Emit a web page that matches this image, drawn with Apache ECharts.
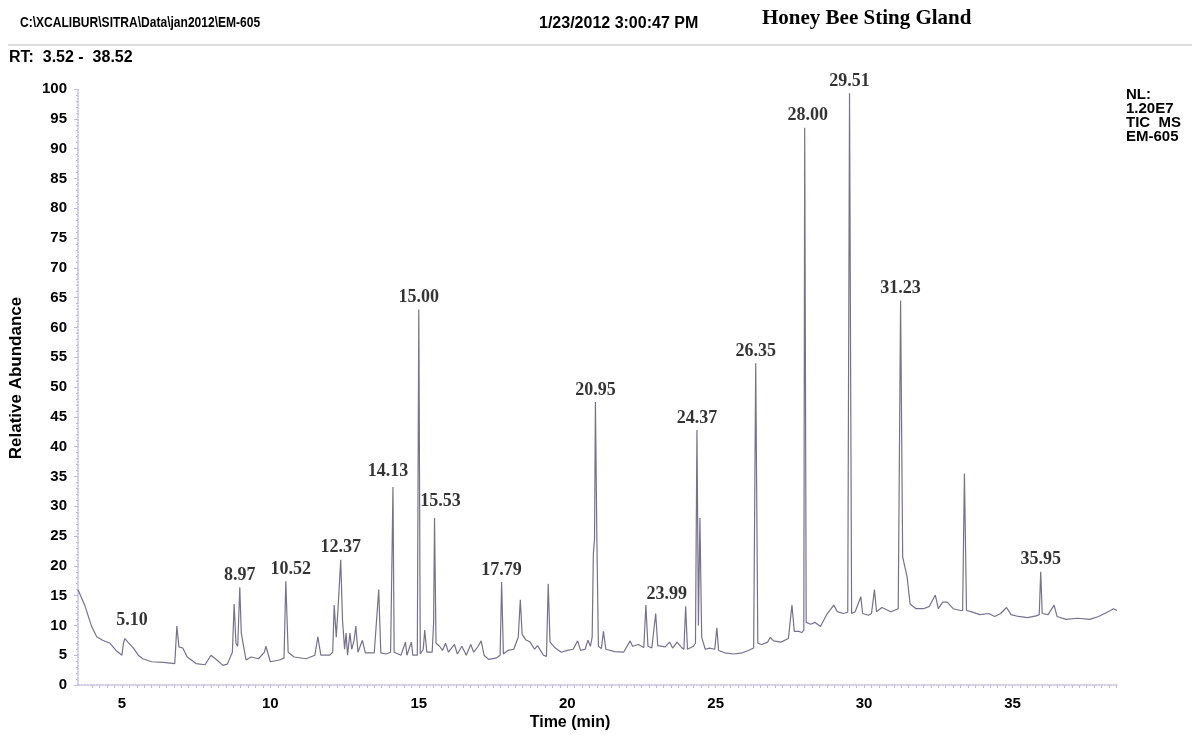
<!DOCTYPE html>
<html>
<head>
<meta charset="utf-8">
<script src="https://cdn.jsdelivr.net/npm/echarts@6/dist/echarts.min.js"></script>
<style>
html,body{margin:0;padding:0;background:#fff;}
#chart{width:1192px;height:735px;}
</style>
</head>
<body>
<div id="chart"></div>
<script>
// ---- data ----
const retentionTimes = [
 3.52,3.76,3.98,4.15,4.35,4.6,4.8,5.0,5.05,5.1,5.2,5.4,5.55,5.7,6.0,6.4,6.78,6.85,6.92,7.05,
 7.2,7.5,7.8,8.0,8.2,8.4,8.55,8.72,8.78,8.84,8.9,8.97,9.02,9.08,9.18,9.35,9.6,9.8,9.85,10.0,
 10.3,10.46,10.52,10.6,10.8,11.2,11.5,11.6,11.7,12.0,12.1,12.15,12.22,12.28,12.37,12.43,12.5,12.55,12.6,12.68,
 12.74,12.82,12.88,12.95,13.1,13.2,13.5,13.65,13.72,13.9,14.05,14.09,14.13,14.17,14.4,14.55,14.6,14.75,14.8,14.95,
 15.0,15.05,15.15,15.2,15.27,15.45,15.5,15.53,15.58,15.7,15.8,15.9,16.0,16.2,16.3,16.45,16.6,16.75,16.85,17.0,
 17.1,17.2,17.35,17.6,17.74,17.79,17.85,18.0,18.2,18.35,18.42,18.48,18.6,18.75,18.9,19.0,19.2,19.3,19.36,19.42,
 19.6,19.8,20.0,20.2,20.35,20.45,20.6,20.7,20.78,20.84,20.88,20.92,20.95,21.0,21.05,21.15,21.22,21.3,21.6,21.9,
 22.12,22.2,22.4,22.58,22.65,22.72,22.85,22.98,23.05,23.3,23.45,23.55,23.7,23.85,23.93,23.99,24.05,24.25,24.32,24.37,
 24.42,24.47,24.53,24.65,24.8,24.97,25.04,25.1,25.3,25.6,25.9,26.1,26.28,26.35,26.42,26.55,26.75,26.84,26.95,27.2,
 27.45,27.57,27.65,27.8,27.9,27.97,28.0,28.05,28.2,28.35,28.53,28.75,28.98,29.1,29.3,29.45,29.51,29.58,29.7,29.89,
 29.95,30.15,30.25,30.35,30.42,30.6,30.9,31.15,31.23,31.3,31.45,31.55,31.75,32.0,32.2,32.4,32.5,32.65,32.8,33.0,
 33.25,33.32,33.38,33.45,33.6,33.9,34.2,34.4,34.6,34.8,34.95,35.2,35.5,35.8,35.9,35.95,36.0,36.2,36.4,36.5,
 36.8,37.2,37.6,37.9,38.1,38.3,38.4,38.52
];
const relAbundance = [
 16.0,13.2,9.8,8.1,7.5,7.0,5.8,5.0,7.0,7.8,7.2,6.1,5.0,4.4,3.9,3.8,3.6,9.9,6.4,6.2,
 4.7,3.6,3.4,5.0,4.2,3.3,3.5,5.5,13.6,7.0,6.5,16.4,8.7,8.4,4.2,4.7,4.4,5.5,6.5,3.9,
 4.2,4.5,17.4,5.5,4.7,4.4,5.0,8.1,5.0,5.0,5.5,13.4,8.0,12.9,21.0,10.9,6.0,8.7,5.0,8.7,
 6.0,7.5,9.9,5.5,7.5,5.4,5.4,16.0,5.4,5.2,5.5,19.0,33.2,5.5,5.0,7.2,5.0,7.2,5.0,5.0,
 63.0,5.2,6.0,9.2,5.5,5.5,10.5,28.0,7.0,6.5,5.8,7.0,5.5,6.8,5.2,6.5,5.0,6.8,5.5,6.5,
 7.4,5.0,4.3,4.5,5.0,17.3,5.2,5.8,6.0,8.0,14.3,8.5,7.6,7.2,6.0,6.6,5.0,4.8,17.0,7.2,
 6.2,5.5,5.8,6.0,7.4,5.8,6.0,7.5,6.5,8.0,22.0,24.5,47.5,24.0,6.5,6.1,9.0,6.0,5.6,5.5,
 7.4,6.5,6.8,6.3,13.4,6.5,6.2,12.0,6.6,6.4,7.2,6.2,7.2,6.3,6.0,13.2,6.0,6.5,7.0,42.8,
 10.0,28.0,8.0,6.0,6.2,6.0,9.6,5.8,5.4,5.2,5.4,5.8,6.2,54.0,7.0,6.8,7.2,8.0,7.4,7.2,
 7.8,13.4,9.0,9.0,8.8,9.2,93.5,10.5,10.2,10.5,9.8,11.9,13.4,12.3,12.0,12.2,99.3,12.0,12.3,14.8,
 12.0,11.7,12.0,16.0,12.3,13.0,12.3,12.8,64.5,21.5,18.1,13.6,12.8,12.8,13.2,15.1,12.8,13.9,13.9,12.8,
 12.5,12.5,35.5,12.5,12.3,11.8,12.0,11.5,12.0,13.0,11.8,11.5,11.3,11.6,11.8,19.0,12.0,11.8,13.4,11.5,
 11.0,11.2,11.0,11.5,12.0,12.5,12.8,12.5
];
const peakTimes   = [5.10, 8.97, 10.52, 12.37, 14.13, 15.00, 15.53, 17.79, 20.95, 23.99, 24.37, 26.35, 28.00, 29.51, 31.23, 35.95];
const peakHeights = [7.8, 16.4, 17.4, 21.0, 33.2, 63.0, 28.0, 17.3, 47.5, 13.2, 42.8, 54.0, 93.5, 99.3, 64.5, 19.0];
const peakLabels  = ['5.10','8.97','10.52','12.37','14.13','15.00','15.53','17.79','20.95','23.99','24.37','26.35','28.00','29.51','31.23','35.95'];
const xTickLabels = [5, 10, 15, 20, 25, 30, 35];
const yTickStep = 5;
const xRange = [3.52, 38.52];

// ---- style / layout ----
const labelOffsets = {'5.10':[7,-6], '10.52':[5,0], '14.13':[-5,-4], '15.53':[6,-5], '23.99':[-19,0], '28.00':[3,0]};
const xMinorTicks = [];
for (let v = 4; v <= 38.5; v += 0.25) xMinorTicks.push(Math.round(v * 100) / 100);

const trace = retentionTimes.map((t, i) => [t, relAbundance[i]]);
const peaks = peakTimes.map((t, i) => ({
  value: [t, peakHeights[i]],
  label: { offset: labelOffsets[peakLabels[i]] || [0, 0] }
}));

const axisColor = '#c3badb';
const sans = '"Liberation Sans", Arial, sans-serif';
const chart = echarts.init(document.getElementById('chart'), null, {renderer: 'canvas'});
chart.setOption({
  animation: false,
  backgroundColor: '#ffffff',
  grid: { left: 78, right: 75, top: 89, bottom: 50, containLabel: false, outerBoundsMode: 'none' },
  xAxis: {
    type: 'value', min: xRange[0], max: xRange[1],
    axisLine: { show: true, lineStyle: { color: axisColor, width: 1.5, type: 'dotted' } },
    axisTick: { show: true, customValues: xMinorTicks, length: 3, lineStyle: { color: axisColor } },
    axisLabel: { customValues: xTickLabels, margin: 11, fontFamily: sans, fontWeight: 'bold', fontSize: 15, color: '#000' },
    splitLine: { show: false }
  },
  yAxis: {
    type: 'value', min: 0, max: 100, interval: yTickStep,
    axisLine: { show: true, lineStyle: { color: axisColor, width: 1.5, type: 'dotted' } },
    axisTick: { show: true, length: 4, lineStyle: { color: axisColor } },
    minorTick: { show: true, splitNumber: 5, length: 2, lineStyle: { color: axisColor } },
    axisLabel: { margin: 11, fontFamily: sans, fontWeight: 'bold', fontSize: 15, color: '#000' },
    splitLine: { show: false }
  },
  series: [
    {
      type: 'line', data: trace, showSymbol: false, silent: true,
      lineStyle: { color: '#77718c', width: 1.2 }
    },
    {
      type: 'scatter', data: peaks, symbolSize: 0, silent: true,
      label: {
        show: true, position: 'top', distance: 3,
        formatter: p => peakLabels[p.dataIndex],
        fontFamily: '"Liberation Serif", serif', fontWeight: 'bold', fontSize: 18, color: '#000', textBorderWidth: 0
      }
    }
  ],
  graphic: [
    { type: 'text', x: 20, y: 16, scaleX: 0.86, style: { text: 'C:\\XCALIBUR\\SITRA\\Data\\jan2012\\EM-605', font: 'bold 14px "Liberation Sans"', fill: '#000' } },
    { type: 'text', x: 539, y: 16, style: { text: '1/23/2012 3:00:47 PM', font: 'bold 16px "Liberation Sans"', fill: '#000' } },
    { type: 'text', x: 762, y: 8, style: { text: 'Honey Bee Sting Gland', font: 'bold 21px "Liberation Serif"', fill: '#000' } },
    { type: 'line', shape: { x1: 8, y1: 45, x2: 1192, y2: 45 }, style: { stroke: '#dcdcdc', lineWidth: 2 } },
    { type: 'text', x: 9, y: 50, style: { text: 'RT:  3.52 -  38.52', font: 'bold 16px "Liberation Sans"', fill: '#000' } },
    { type: 'text', x: 1126, y: 88, style: { text: 'NL:\n1.20E7\nTIC  MS\nEM-605', font: 'bold 15px "Liberation Sans"', lineHeight: 14, fill: '#000' } },
    { type: 'text', x: 570, y: 723, style: { text: 'Time (min)', font: 'bold 16px "Liberation Sans"', fill: '#000', align: 'center', verticalAlign: 'middle' } },
    { type: 'text', x: 16, y: 378, rotation: Math.PI / 2, style: { text: 'Relative Abundance', font: 'bold 17px "Liberation Sans"', fill: '#000', align: 'center', verticalAlign: 'middle' } }
  ]
});
</script>
</body>
</html>
